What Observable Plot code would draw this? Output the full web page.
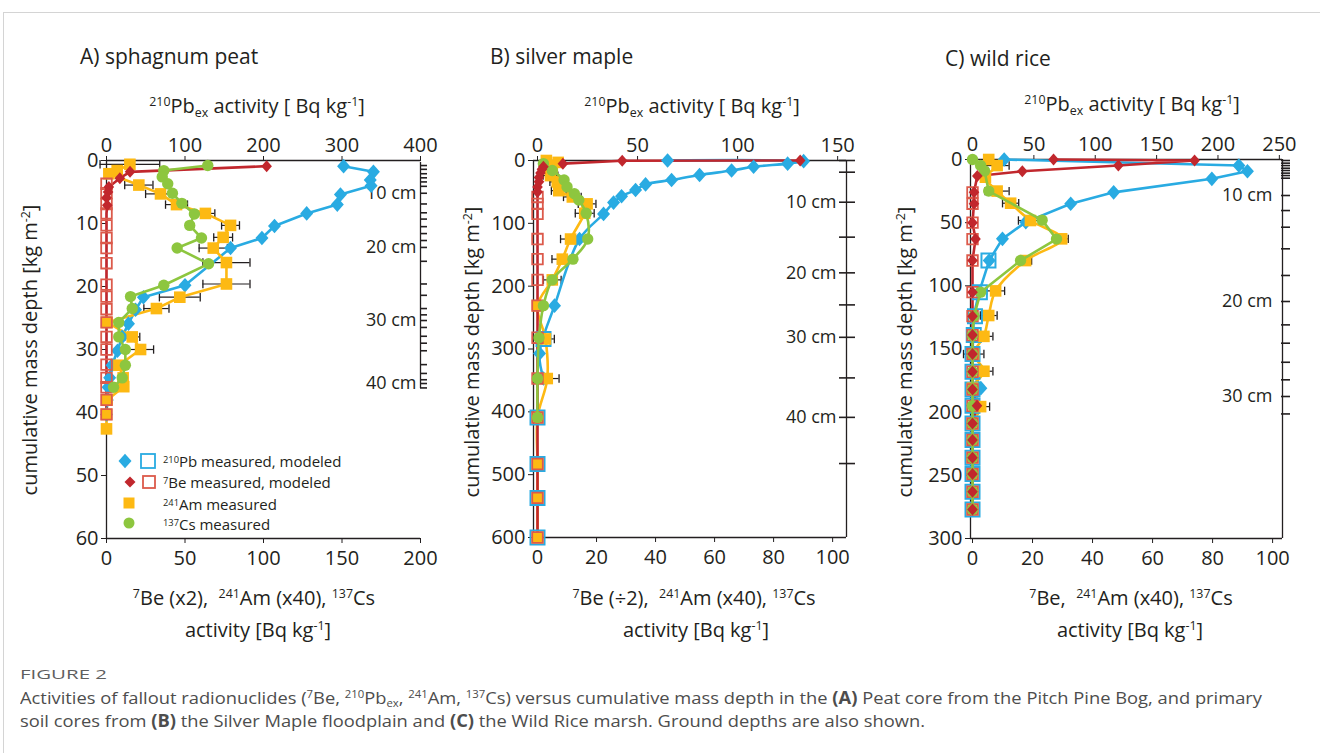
<!DOCTYPE html>
<html><head><meta charset="utf-8">
<script src="https://cdn.jsdelivr.net/npm/d3@7"></script>
<script src="https://cdn.jsdelivr.net/npm/@observablehq/plot@0.6"></script>
<style>
html,body{margin:0;padding:0;background:#fff;}
#root{position:relative;width:1320px;height:753px;overflow:hidden;font-family:"Open Sans",sans-serif;color:#231f20;}
.t{position:absolute;white-space:nowrap;line-height:1;}
.c{transform:translate(-50%,-50%);}
.l{transform:translate(0,-50%);}
.r90{transform:translate(-50%,-50%) rotate(-90deg);}
sup{font-size:0.62em;vertical-align:0;position:relative;top:-0.58em;line-height:0;}
sub{font-size:0.62em;vertical-align:0;position:relative;top:0.32em;line-height:0;}
.lg sup{top:-0.42em;}
.frame{position:absolute;left:3px;top:12px;right:-2px;bottom:-2px;border-top:1px solid #d4d4d4;border-left:1px solid #d4d4d4;}
.pan{position:absolute;}
.cap{position:absolute;white-space:nowrap;left:20px;color:#4d4d4d;font-size:17px;transform-origin:0 50%;}
</style></head>
<body><div id="root"><div class="frame"></div></div>
<script>
// ---------- Panel A: sphagnum peat (bottom-axis units; 210Pb in its own units) ----------
const aPbDepth = [0.9,1.8,3.1,4.0,5.4,7.0,8.4,10.4,12.3,13.9,19.8,21.7,23.7,25.9,28,30.2,32.5,34.5,36,38,40.3];
const aPbValue = [302,340,336,337,298,294,255,214,198,158,100,47,37,28,20,14,7,4,2,1,0];
const aBeDepth = [0.9,1.8,2.8,4.2,5.0,5.9,7.1];
const aBeValue = [102,15,8.5,1.5,1,0,0.5];
const aBeModDepth = [3.7,5.2,6.9,8.4,10.3,12.3,13.9,16.3,19.7,21.6,23.6,25.7,28,30,32.4,34.5,36,38,40.3];
const aAmDepth = [0.6,1.6,2.1,3.9,5.3,7.0,8.4,10.3,12.2,13.9,16.2,19.6,21.7,23.5,25.7,28,30,32.5,34.5,35.9,38,40.3,42.6];
const aAmValue = [14.9,6.8,1.5,20.6,34.4,44.6,63,79,74.3,68,76.4,76.4,46.7,31.8,0.4,16.4,21.7,7.9,10.6,11,0.4,0,0];
const aAmErr   = [19,0,0,9,9.5,7,6,5.7,6,9,15,15,13,8,0,4.8,8.3,2.5,2.5,2.5,0,0,0];
const aCsDepth = [0.8,1.6,2.6,3.7,5.2,6.8,8.5,10.3,12.3,13.9,16.4,19.8,21.6,23.5,25.7,28,30,32.5,34.5,36];
const aCsValue = [64.5,36.5,35.5,39,42,48,56,53,60.5,45,65,36.5,15.3,16.4,7.8,7.8,12,12,10,4.5];
const aGroundTicks = [0.8,1.4,2.1,2.75,3.4,4.1,5.2,6.9,8.3,9.3,10.5,11.6,12.7,13.8,16.0,19.6,21.4,23.5,24.5,25.4,26.5,27.9,29,30.2,32.4,33.8,34.8,35.4,36.1];
const aGroundLabelDepth = [5.2,13.8,25.4,35.4];
const aBottomTicks = [0,50,100,150,200];
const aTopTicks = [0,100,200,300,400];
const aYTicks = [0,10,20,30,40,50,60];

// ---------- Panel B: silver maple ----------
const bPbDepth = [0,1,5,10,16,23,31,38,47,57,67,85,125,231,307,347];
const bPbValue = [65,133,125,108,97,81,67,54,49,42,38,33,21,8.5,1,3];
const bPbModDepth = [284,409,483,537,600];
const bPbModValue = [3,0,0,0,0];
const bBeDepth = [0,0.5,5,10,14,20,27,34,42,50];
const bBeValue = [89,28.7,8.6,2,1.5,1,0.5,0.5,0,0];
const bBeModDepth = [58,69,85,125,157,190,231,282,347,409,483,537,600];
const bAmDepth = [0,3,10,24,34,48,58,69,84,125,157,190,231,284,347,409,483,537,600];
const bAmValue = [3,7,5,4.4,6.7,7.2,11.8,16.8,16,11.2,8.4,5,0,2.7,3.3,0,0,0,0];
const bAmErr   = [0,0,0,2.5,2.5,2.5,3,3,3.2,3.4,3.5,3,0,3,4,0,0,0,0];
const bCsDepth = [5,16,31,42,53,63,84,125,157,190,231,282,347,409];
const bCsValue = [2,5,9,10,12.5,14,16.5,17,12,5,2,0.5,0,0];
const bGroundTicks = [0,18.6,66.4,122,178.8,229.8,281.4,346,408.8,482.3];
const bGroundLabelDepth = [66.4,178.8,281.4,408.8];
const bBottomTicks = [0,20,40,60,80,100];
const bTopTicks = [0,50,100,150];
const bYTicks = [0,100,200,300,400,500,600];

// ---------- Panel C: wild rice ----------
const cPbDepth = [0,4.8,9.3,15.3,26,35,49.6,62.8,80,105,124,139,154,168,181,195,209,222,236,249,263,277];
const cPbValue = [25.8,217,224,195,115,80,43.4,24.4,13.6,5.4,1,0.5,0,0,6.8,0,0,0,0,0,0,0];
const cPbModDepth = [80,105,124,139,154,168,182,195,209,222,236,249,263,277];
const cPbModValue = [13,6,2,1,0,0,0,0,0,0,0,0,0,0];
const cBeDepth = [0,0.8,4.8,9.3,13,26,35,50,63,80,105,124,139,154,168,182,195,209,222,236,249,263,277];
const cBeValue = [27,74,48.6,16.6,1.6,0.5,0.5,0,1,0,0,0,0,0,0,0,1.5,0,0,0,0,0,0];
const cBeModDepth = [26,35,50,63,80,105,124,139,154,168,182,195,209,222,236,249,263,277];
const cAmDepth = [0,4.8,14,25,34.6,48.3,62.8,80,104,123.5,140,154,167.6,181,195.6,209,222,236,249,263,277];
const cAmValue = [5.4,8.2,4.3,8.2,12.7,19.3,29.7,17.7,7.7,5.4,3.8,0.4,3.8,0,2.7,0,0,0,0,0,0];
const cAmErr   = [0,4,0,4,2.7,4,2.2,2,3,2.8,3,3.4,3,0,3,1.5,0,0,0,0,0];
const cCsDepth = [0,4.8,9,25,48,63,80,105,124,139,154,168,182,195,209,222,236,249,263,277];
const cCsValue = [0,2.7,4,5.4,23.2,28,16,2.7,0.5,0,0,0,0,0,0,0,0,0,0,0];
const cGroundTicks = [0.8,2.9,4.8,6.9,8.7,10.8,12.7,14.8,28.5,40.4,53.6,70.7,91.8,112.4,130.9,145.4,160.5,174.4,187.6,201.4];
const cGroundLabelDepth = [28.5,112.4,187.6];
const cBottomTicks = [0,20,40,60,80,100];
const cTopTicks = [0,50,100,150,200,250];
const cYTicks = [0,50,100,150,200,250,300];

const groundLabels = ["10 cm","20 cm","30 cm","40 cm"];

// ---------- styling ----------
const INK = "#231f20", PB = "#29abe2", BE = "#c1272d", BEMOD = "#dc5a4b", AM = "#fdb913", CS = "#8dc63f";
const FONT = '"Open Sans", sans-serif';

function poly(pts){return {draw(ctx){ctx.moveTo(pts[0][0],pts[0][1]);for(let i=1;i<pts.length;i++)ctx.lineTo(pts[i][0],pts[i][1]);ctx.closePath();}};}
const pbDia = poly([[0,-7.3],[6.5,0],[0,7.3],[-6.5,0]]);
const beDia = poly([[0,-6],[5.3,0],[0,6],[-5.3,0]]);
const amSq = poly([[-5.8,-5.8],[5.8,-5.8],[5.8,5.8],[-5.8,5.8]]);
const pbSq = poly([[-7,-7],[7,-7],[7,7],[-7,7]]);
const beSq = poly([[-5.3,-5.3],[5.3,-5.3],[5.3,5.3],[-5.3,5.3]]);
const capSym = {draw(ctx){ctx.moveTo(0,-4.2);ctx.lineTo(0,4.2);}};

function zip(values, depths, k = 1, errs) {
  return values.map((v, i) => ({x: v * k, d: depths[i], e: errs ? errs[i] : 0}));
}

const root = document.getElementById("root");

function drawPanel(p) {
  const [x0, xR] = p.xDomain;
  const ppx = (p.W - p.ml - p.mr) / (xR - x0);
  const pb = zip(p.pbV, p.pbD, p.k);
  const pbMod = p.pbModD ? zip(p.pbModV, p.pbModD, p.k) : [];
  const be = zip(p.beV, p.beD);
  const beMod = p.beModD.map(d => ({x: 0, d}));
  const lastBe = d3.max(be, b => b.d);
  const beLine = [...be, ...beMod.filter(m => m.d > lastBe)].sort((a, b) => a.d - b.d);
  const am = zip(p.amV, p.amD, 1, p.amE);
  const amErr = am.filter(a => a.e > 0);
  const caps = amErr.flatMap(a => [{x: a.x - a.e, d: a.d}, {x: a.x + a.e, d: a.d}]);
  const cs = zip(p.csV, p.csD);

  const chart = Plot.plot({
    width: p.W, height: p.H,
    marginLeft: p.ml, marginRight: p.mr, marginTop: p.mt, marginBottom: p.mb,
    style: {fontFamily: FONT, fontSize: "20px", color: INK, background: "transparent", overflow: "visible"},
    x: {domain: p.xDomain, axis: null, label: null},
    y: {domain: [0, p.yMax], reverse: true, axis: null, label: null},
    marks: [
      Plot.ruleY([0], {x1: x0, x2: xR, stroke: INK, strokeWidth: 1.3}),
      Plot.ruleY([p.yMax], {x1: x0, x2: xR, stroke: INK, strokeWidth: 1.3}),
      Plot.ruleX([x0], {y1: 0, y2: p.yMax, stroke: INK, strokeWidth: 1.3}),
      Plot.ruleX([xR], {y1: p.gLine[0], y2: p.gLine[1], stroke: INK, strokeWidth: 1.3}),
      Plot.ruleY(p.gTicks, {y: d => d, x1: xR + p.gt[0] / ppx, x2: xR + p.gt[1] / ppx, stroke: INK, strokeWidth: 1.6}),
      Plot.text(p.gLabelD, {x: xR, y: d => d, text: (d, i) => groundLabels[i], textAnchor: "end", dx: p.gdx, fontSize: 18, fill: INK}),
      Plot.axisX(p.bTicks, {anchor: "bottom", tickSize: 5, tickPadding: 7, label: null, stroke: INK}),
      Plot.axisX(p.tTicks.map(v => v * p.k), {anchor: "top", tickSize: 5, tickPadding: 4, label: null, tickFormat: d => String(Math.round(d / p.k)), stroke: INK}),
      Plot.axisY(p.yTicks, {anchor: "left", tickSize: 5, tickPadding: 3, label: null, stroke: INK}),
      Plot.ruleY(amErr, {y: "d", x1: d => d.x - d.e, x2: d => d.x + d.e, stroke: INK, strokeWidth: 1.2}),
      Plot.dot(caps, {x: "x", y: "d", symbol: capSym, stroke: INK, fill: "none", strokeWidth: 1.3}),
      Plot.line(pb, {x: "x", y: "d", stroke: PB, strokeWidth: 2.6, curve: p.pbCurve}),
      Plot.line(am, {x: "x", y: "d", stroke: AM, strokeWidth: 2.6, curve: p.amCurve}),
      Plot.line(beLine, {x: "x", y: "d", stroke: BE, strokeWidth: 2.6}),
      Plot.dot(pbMod, {x: "x", y: "d", symbol: pbSq, stroke: PB, fill: "none", strokeWidth: 2}),
      Plot.dot(pb, {x: "x", y: "d", symbol: pbDia, fill: PB, stroke: "none"}),
      Plot.dot(am, {x: "x", y: "d", symbol: amSq, fill: AM, stroke: "none"}),
      Plot.dot(beMod, {x: "x", y: "d", symbol: beSq, stroke: BEMOD, fill: "none", strokeWidth: 1.8}),
      Plot.line(cs, {x: "x", y: "d", stroke: CS, strokeWidth: 2.6, curve: p.csCurve}),
      Plot.dot(cs, {x: "x", y: "d", r: 5.7, fill: CS, stroke: "none"}),
      Plot.dot(be, {x: "x", y: "d", symbol: beDia, fill: BE, stroke: "none"})
    ]
  });
  const wrap = document.createElement("div");
  wrap.className = "pan";
  wrap.style.left = p.left + "px";
  wrap.style.top = p.top + "px";
  wrap.appendChild(chart);
  root.appendChild(wrap);
}

drawPanel({
  left: 40, top: 110, W: 410, H: 460, ml: 66, mr: 30, mt: 50, mb: 32,
  xDomain: [0, 200], yMax: 60, k: 0.5,
  pbV: aPbValue, pbD: aPbDepth, beV: aBeValue, beD: aBeDepth, beModD: aBeModDepth,
  amV: aAmValue, amD: aAmDepth, amE: aAmErr, csV: aCsValue, csD: aCsDepth,
  gTicks: aGroundTicks, gLabelD: aGroundLabelDepth, gLine: [0.3, 36.2], gt: [0, 7], gdx: -4,
  bTicks: aBottomTicks, tTicks: aTopTicks, yTicks: aYTicks,
  pbCurve: "linear", amCurve: "linear", csCurve: "linear"
});
drawPanel({
  left: 470, top: 110, W: 410, H: 460, ml: 63, mr: 34, mt: 50, mb: 33,
  xDomain: [-1.36, 104.7], yMax: 600, k: 0.678,
  pbV: bPbValue, pbD: bPbDepth, pbModV: bPbModValue, pbModD: bPbModDepth,
  beV: bBeValue, beD: bBeDepth, beModD: bBeModDepth,
  amV: bAmValue, amD: bAmDepth, amE: bAmErr, csV: bCsValue, csD: bCsDepth,
  gTicks: bGroundTicks, gLabelD: bGroundLabelDepth, gLine: [0, 600], gt: [-7, 9], gdx: -10,
  bTicks: bBottomTicks, tTicks: bTopTicks, yTicks: bYTicks,
  pbCurve: "catmull-rom", amCurve: "catmull-rom", csCurve: "catmull-rom"
});
drawPanel({
  left: 900, top: 110, W: 410, H: 460, ml: 70, mr: 28, mt: 49, mb: 32,
  xDomain: [-0.67, 103.3], yMax: 300, k: 0.409,
  pbV: cPbValue, pbD: cPbDepth, pbModV: cPbModValue, pbModD: cPbModDepth,
  beV: cBeValue, beD: cBeDepth, beModD: cBeModDepth,
  amV: cAmValue, amD: cAmDepth, amE: cAmErr, csV: cCsValue, csD: cCsDepth,
  gTicks: cGroundTicks, gLabelD: cGroundLabelDepth, gLine: [0, 300], gt: [-1, 8], gdx: -10,
  bTicks: cBottomTicks, tTicks: cTopTicks, yTicks: cYTicks,
  pbCurve: "linear", amCurve: "catmull-rom", csCurve: "linear"
});

// ---------- text ----------
function T(html, x, y, cls, size) {
  const d = document.createElement("div");
  d.className = "t " + cls;
  d.style.left = x + "px"; d.style.top = y + "px";
  d.style.fontSize = size + "px";
  d.innerHTML = html;
  root.appendChild(d);
  return d;
}
const topTitle = "<sup>210</sup>Pb<sub>ex</sub> activity [ Bq kg<sup>-1</sup>]";
const actTitle = "activity [Bq kg<sup>-1</sup>]";
const yTitle = "cumulative mass depth [kg m<sup>-2</sup>]";
T("A) sphagnum peat", 80, 56, "l", 21);
T("B) silver maple", 490, 56, "l", 21);
T("C) wild rice", 945, 58, "l", 21);
T(topTitle, 257, 106, "c", 20);
T(topTitle, 692, 106, "c", 20);
T(topTitle, 1132, 104, "c", 20);
T("<sup>7</sup>Be (x2),&nbsp; <sup>241</sup>Am (x40), <sup>137</sup>Cs", 254, 598, "c", 20);
T("<sup>7</sup>Be (÷2),&nbsp; <sup>241</sup>Am (x40), <sup>137</sup>Cs", 694, 598, "c", 20);
T("<sup>7</sup>Be,&nbsp; <sup>241</sup>Am (x40), <sup>137</sup>Cs", 1131, 598, "c", 20);
T(actTitle, 258, 630, "c", 20);
T(actTitle, 696, 630, "c", 20);
T(actTitle, 1130, 630, "c", 20);
T(yTitle, 30, 350, "r90", 20);
T(yTitle, 472, 352, "r90", 20);
T(yTitle, 905, 352, "r90", 20);

// legend (panel A)
function icon(svg, x, y) {
  const d = document.createElement("div");
  d.style.position = "absolute"; d.style.left = (x - 10) + "px"; d.style.top = (y - 10) + "px";
  d.innerHTML = `<svg width="20" height="20" viewBox="-10 -10 20 20">${svg}</svg>`;
  root.appendChild(d);
}
icon(`<path d="M0,-7.3L6.5,0L0,7.3L-6.5,0Z" fill="${PB}"/>`, 125, 461);
icon(`<rect x="-7" y="-7" width="14" height="14" fill="none" stroke="${PB}" stroke-width="1.8"/>`, 148, 461);
icon(`<path d="M0,-5.5L5.5,0L0,5.5L-5.5,0Z" fill="${BE}"/>`, 130, 482);
icon(`<rect x="-6" y="-6" width="12" height="12" fill="none" stroke="${BEMOD}" stroke-width="1.8"/>`, 149, 482);
icon(`<rect x="-5.5" y="-5.5" width="11" height="11" fill="${AM}"/>`, 129, 503);
icon(`<circle r="5.5" fill="${CS}"/>`, 129, 523);
T("<sup>210</sup>Pb measured, modeled", 163, 461, "l lg", 15);
T("<sup>7</sup>Be measured, modeled", 163, 482, "l lg", 15);
T("<sup>241</sup>Am measured", 163, 503.5, "l lg", 15);
T("<sup>137</sup>Cs measured", 163, 524, "l lg", 15);

// caption
const fig = document.createElement("div");
fig.className = "cap"; fig.style.top = "665px"; fig.style.fontSize = "13px"; fig.style.color = "#5f5f5f";
fig.textContent = "FIGURE 2";
root.appendChild(fig);
const cap1 = document.createElement("div");
cap1.className = "cap"; cap1.style.top = "686px";
cap1.innerHTML = "Activities of fallout radionuclides (<sup>7</sup>Be, <sup>210</sup>Pb<sub>ex</sub>, <sup>241</sup>Am, <sup>137</sup>Cs) versus cumulative mass depth in the <b>(A)</b> Peat core from the Pitch Pine Bog, and primary";
root.appendChild(cap1);
const cap2 = document.createElement("div");
cap2.className = "cap"; cap2.style.top = "709px";
cap2.innerHTML = "soil cores from <b>(B)</b> the Silver Maple floodplain and <b>(C)</b> the Wild Rice marsh. Ground depths are also shown.";
root.appendChild(cap2);
const sx = 1242 / cap1.getBoundingClientRect().width;
cap1.style.transform = `scaleX(${sx})`;
cap2.style.transform = `scaleX(${sx})`;
const fx = 87 / fig.getBoundingClientRect().width;
fig.style.transform = `scaleX(${fx})`;
</script></body></html>
